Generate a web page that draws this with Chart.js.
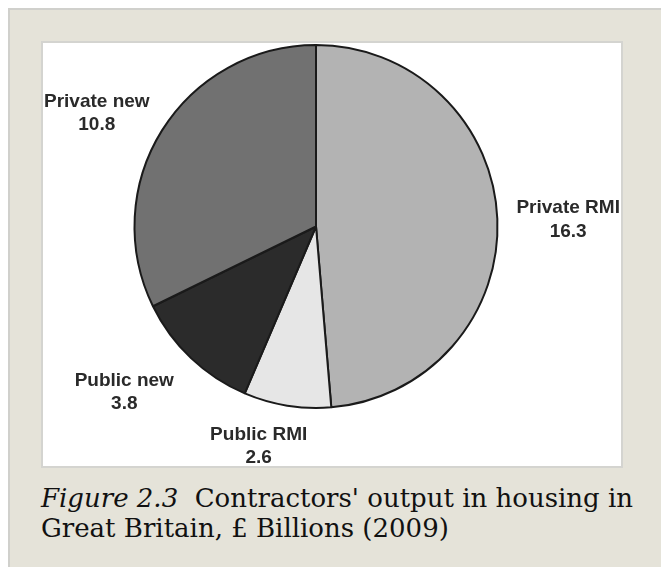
<!DOCTYPE html>
<html>
<head>
<meta charset="utf-8">
<script src="https://cdn.jsdelivr.net/npm/chart.js@4.4.1/dist/chart.umd.min.js"></script>
<style>
  html, body { margin: 0; padding: 0; background: #fff; }
  body { width: 661px; height: 567px; overflow: hidden; position: relative; }
  .frame {
    position: absolute; left: 8px; top: 8px; width: 700px; height: 600px;
    background: #e5e3d9; border: 2px solid #d0d0cc; box-sizing: border-box;
  }
  .box {
    position: absolute; left: 41px; top: 41px; width: 582px; height: 427px;
    background: #fff; border: 2px solid #d4d4d0; box-sizing: border-box;
  }
  .box canvas { display: block; }
  .caption {
    position: absolute; left: 41px; top: 483px; width: 610px;
    font-family: "DejaVu Serif", serif; font-size: 26px; line-height: 30px; color: #111;
  }
</style>
</head>
<body>
<div class="frame"></div>
<div class="box"><canvas id="chart" width="578" height="423"></canvas></div>
<div class="caption"><i>Figure 2.3</i>&nbsp; Contractors' output in housing in Great Britain, £ Billions (2009)</div>
<script>
  // values in £ billions, read clockwise from 12 o'clock
  const categories = ['Private RMI', 'Public RMI', 'Public new', 'Private new'];
  const values = [16.3, 2.6, 3.8, 10.8];
  const sliceColors = ['#b3b3b3', '#e6e6e6', '#2b2b2b', '#717171'];

  // label placement: angle tweak (deg) from slice middle, distance as multiple of radius
  const labelPlace = [[0.8, 1.39], [5.5, 1.25], [5.7, 1.395], [-4.6, 1.36]];

  const outsideLabels = {
    id: 'outsideLabels',
    afterDatasetsDraw(chart) {
      const ctx = chart.ctx;
      const meta = chart.getDatasetMeta(0);
      ctx.save();
      ctx.font = 'bold 19px "Liberation Sans", Arial, sans-serif';
      ctx.fillStyle = '#2a2a2a';
      ctx.textAlign = 'center';
      ctx.textBaseline = 'middle';
      meta.data.forEach((arc, i) => {
        const mid = (arc.startAngle + arc.endAngle) / 2 + labelPlace[i][0] * Math.PI / 180;
        const d = arc.outerRadius * labelPlace[i][1];
        const x = arc.x + Math.cos(mid) * d;
        const y = arc.y + Math.sin(mid) * d;
        ctx.fillText(categories[i], x, y - 11.5);
        ctx.fillText(values[i].toFixed(1), x, y + 12);
      });
      ctx.restore();
    }
  };

  new Chart(document.getElementById('chart'), {
    type: 'pie',
    data: {
      labels: categories,
      datasets: [{
        data: values,
        backgroundColor: sliceColors,
        borderColor: '#1a1a1a',
        borderWidth: 2
      }]
    },
    options: {
      responsive: false,
      animation: false,
      layout: { padding: { top: 1, bottom: 57, left: 0, right: 32 } },
      plugins: { legend: { display: false }, tooltip: { enabled: false } }
    },
    plugins: [outsideLabels]
  });
</script>
</body>
</html>
